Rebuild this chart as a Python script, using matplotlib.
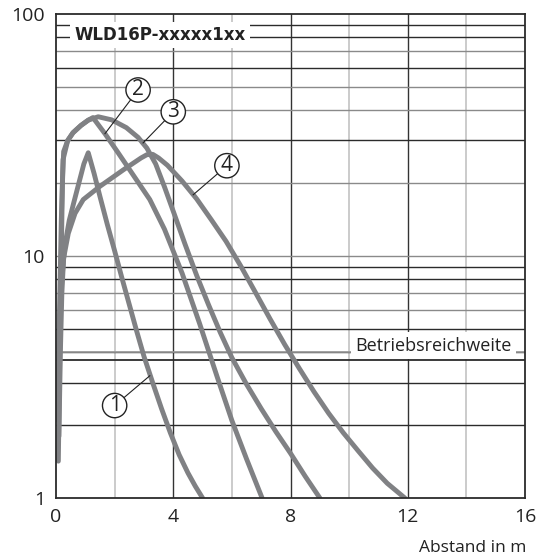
import numpy as np
import matplotlib
matplotlib.use("Agg")
import matplotlib.pyplot as plt

plt.rcParams["font.family"] = ["Open Sans", "DejaVu Sans"]

# curve data (distance in m, value on log axis)
c1_x = [0.05, 0.12, 0.2, 0.3, 0.45, 0.6, 0.78, 0.95, 1.1, 1.3, 1.5, 1.75, 2.0,
        2.25, 2.5, 2.75, 3.0, 3.3, 3.6, 3.9, 4.2, 4.5, 4.75, 5.0]
c1_y = [2.1, 5.0, 8.0, 11.0, 14.0, 16.5, 20.0, 24.0, 26.7, 21.9, 17.6, 13.5, 10.5,
        8.1, 6.3, 4.9, 3.85, 2.99, 2.34, 1.86, 1.51, 1.27, 1.12, 1.0]

c2_x = [0.08, 0.13, 0.18, 0.22, 0.26, 0.4, 0.58, 0.85, 1.1, 1.26, 1.67, 2.1, 2.6,
        3.2, 3.7, 4.3, 4.9, 5.5, 6.0, 6.5, 7.03]
c2_y = [1.42, 4.0, 10.0, 20.0, 27.0, 30.0, 32.3, 34.6, 36.4, 37.3, 32.0, 26.9, 21.9,
        17.1, 12.9, 8.5, 5.25, 3.16, 2.09, 1.45, 1.0]

c3_x = [0.06, 0.12, 0.18, 0.24, 0.4, 0.58, 0.85, 1.1, 1.44, 1.9, 2.4, 2.8, 3.1,
        3.4, 3.7, 4.0, 4.4, 4.8, 5.2, 5.6, 6.0, 6.5, 7.0, 7.5, 8.0, 8.5, 9.0]
c3_y = [2.2, 6.0, 14.0, 25.0, 30.0, 32.3, 34.6, 36.4, 37.6, 36.5, 33.9, 30.9, 27.9,
        24.0, 19.3, 15.3, 11.2, 8.3, 6.3, 4.84, 3.8, 2.95, 2.34, 1.88, 1.53, 1.23, 1.0]

c4_x = [0.1, 0.15, 0.2, 0.26, 0.42, 0.65, 0.93, 1.5, 2.3, 2.9, 3.1, 3.3, 3.5, 3.8,
        4.3, 4.8, 5.3, 5.8, 6.3, 6.8, 7.3, 7.8, 8.3, 8.8, 9.3, 9.8, 10.3, 10.8,
        11.3, 11.9]
c4_y = [1.8, 4.0, 7.0, 9.8, 12.4, 15.0, 17.1, 19.4, 22.7, 25.4, 26.2, 26.3, 25.4,
        23.7, 20.4, 17.2, 14.1, 11.5, 9.1, 7.08, 5.5, 4.31, 3.43, 2.75, 2.24, 1.86,
        1.57, 1.33, 1.15, 1.0]

curves = [(c1_x, c1_y), (c2_x, c2_y), (c3_x, c3_y), (c4_x, c4_y)]

# circled labels: label text, circle position, end of leader on the curve
labels = ["1", "2", "3", "4"]
label_pos = [(2.0, 2.41), (2.8, 48.5), (4.0, 39.4), (5.83, 23.6)]
leader_end = [(3.2, 3.2), (1.67, 32.0), (2.97, 29.3), (4.68, 17.9)]

range_value = 3.7
x_ticks = [0, 4, 8, 12, 16]
y_ticks = [1, 10, 100]

fig = plt.figure(figsize=(5.39, 5.59), dpi=100)
ax = fig.add_axes([0.1039, 0.1091, 0.8702, 0.866])
ax.set_yscale("log")
ax.set_xlim(0, 16)
ax.set_ylim(1, 100)

# grid: vertical lines, majors dark and minors light
for x in range(2, 16, 2):
    col = "#333333" if x % 4 == 0 else "#bdbdbd"
    ax.axvline(x, color=col, lw=1.1 if x % 4 else 1.0, zorder=1)

# horizontal log grid, mixed dark / grey like the original scan
light = {70, 50, 40, 20, 10, 7, 6}
for dec in [1, 10]:
    for m in range(2, 10):
        v = m * dec
        col = "#8a8a8a" if v in light else "#2b2b2b"
        ax.axhline(v, color=col, lw=1.0, zorder=1)
ax.axhline(10, color="#8a8a8a", lw=1.0, zorder=1)
ax.axhline(4, color="#9a9a9a", lw=1.2, zorder=1)

# operating range line
ax.axhline(range_value, color="#2b2b2b", lw=1.3, zorder=1)
ax.text(15.55, 4.25, "Betriebsreichweite", ha="right", va="center", fontsize=13,
        color="#222222", zorder=3,
        bbox=dict(boxstyle="square,pad=0.25", fc="white", ec="none"))

for cx, cy in curves:
    ax.plot(cx, cy, color="#808184", lw=3.5, solid_capstyle="round",
            solid_joinstyle="round", zorder=4)

for lab, (px, py), (ex, ey) in zip(labels, label_pos, leader_end):
    ax.plot([px, ex], [py, ey], color="#222222", lw=0.8, zorder=5)
    ax.text(px, py, lab, ha="center", va="center", fontsize=15, color="#222222",
            zorder=6, bbox=dict(boxstyle="circle,pad=0.08", fc="white",
                                ec="#222222", lw=1.0))

ax.text(3.55, 82, "WLD16P-xxxxx1xx", ha="center", va="center", fontsize=12,
        fontweight="bold", family="DejaVu Sans", color="#222222", zorder=3,
        bbox=dict(boxstyle="square,pad=0.25", fc="white", ec="none"))

ax.set_xticks(x_ticks)
ax.set_xticklabels([str(t) for t in x_ticks])
ax.set_yticks(y_ticks)
ax.set_yticklabels([str(t) for t in y_ticks])
ax.yaxis.set_minor_locator(matplotlib.ticker.NullLocator())
ax.tick_params(length=0, labelsize=14, colors="#222222", pad=8)
ax.tick_params(axis="x", pad=7)

for s in ax.spines.values():
    s.set_color("#2b2b2b")
    s.set_linewidth(1.3)
    s.set_zorder(7)

fig.text(0.976, 0.006, "Abstand in m", ha="right", va="bottom", fontsize=12.5,
         color="#222222")

fig.savefig("out.png", dpi=100)
